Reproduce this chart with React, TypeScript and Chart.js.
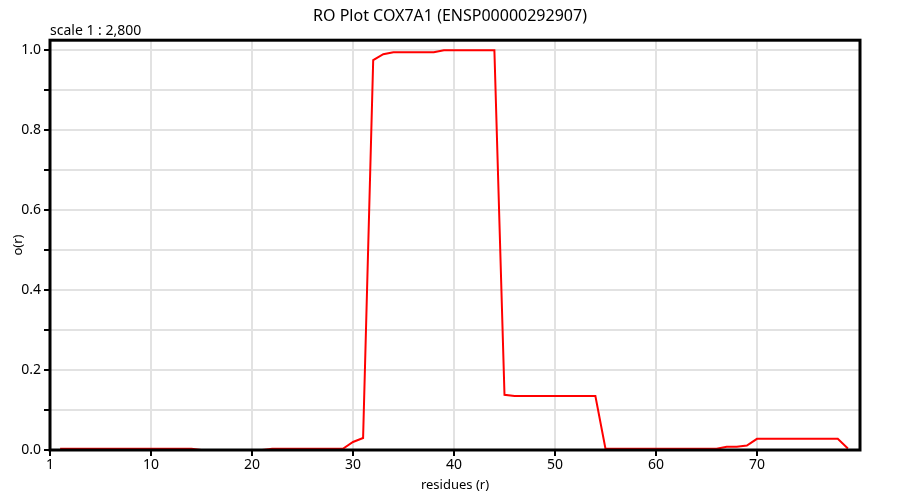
import React, { useEffect, useRef } from "react";
import { Chart, registerables } from "chart.js";

Chart.register(...registerables);

const TITLE = "RO Plot COX7A1 (ENSP00000292907)";
const SCALE_LABEL = "scale 1 : 2,800";
const X_TITLE = "residues (r)";
const Y_TITLE = "o(r)";

const residues: number[] = [
  1, 2, 3, 4, 5, 6, 7, 8, 9, 10, 11, 12, 13, 14, 15, 16, 17, 18, 19, 20,
  21, 22, 23, 24, 25, 26, 27, 28, 29, 30, 31, 32, 33, 34, 35, 36, 37, 38, 39, 40,
  41, 42, 43, 44, 45, 46, 47, 48, 49, 50, 51, 52, 53, 54, 55, 56, 57, 58, 59, 60,
  61, 62, 63, 64, 65, 66, 67, 68, 69, 70, 71, 72, 73, 74, 75, 76, 77, 78, 79,
];

const orValues: number[] = [
  0.003, 0.003, 0.003, 0.003, 0.003, 0.003, 0.003, 0.003, 0.003, 0.003,
  0.003, 0.003, 0.003, 0.003, 0, 0, 0, 0, 0, 0,
  0, 0.003, 0.003, 0.003, 0.003, 0.003, 0.003, 0.003, 0.003, 0.02,
  0.03, 0.975, 0.99, 0.995, 0.995, 0.995, 0.995, 0.995, 1.0, 1.0,
  1.0, 1.0, 1.0, 1.0, 0.138, 0.135, 0.135, 0.135, 0.135, 0.135,
  0.135, 0.135, 0.135, 0.135, 0.003, 0.003, 0.003, 0.003, 0.003, 0.003,
  0.003, 0.003, 0.003, 0.003, 0.003, 0.003, 0.008, 0.008, 0.011, 0.028,
  0.028, 0.028, 0.028, 0.028, 0.028, 0.028, 0.028, 0.028, 0.004,
];

const xTicks: number[] = [0, 10, 20, 30, 40, 50, 60, 70];
const xTickLabels: string[] = ["1", "10", "20", "30", "40", "50", "60", "70"];
const yTicks: number[] = [0, 0.1, 0.2, 0.3, 0.4, 0.5, 0.6, 0.7, 0.8, 0.9, 1.0];
const yTickLabels: string[] = ["0.0", "", "0.2", "", "0.4", "", "0.6", "", "0.8", "", "1.0"];

const FONT = "'Noto Sans', 'Open Sans', sans-serif";

const framePlugin = {
  id: "frame",
  afterDatasetsDraw(chart: any) {
    const { ctx, chartArea } = chart;
    ctx.save();
    ctx.strokeStyle = "#000";
    ctx.lineWidth = 3;
    ctx.strokeRect(
      chartArea.left,
      chartArea.top,
      chartArea.right - chartArea.left,
      chartArea.bottom - chartArea.top
    );
    ctx.restore();
  },
  afterDraw(chart: any) {
    const { ctx, chartArea } = chart;
    ctx.save();
    ctx.fillStyle = "#000";
    ctx.font = `14px ${FONT}`;
    ctx.textAlign = "left";
    ctx.textBaseline = "alphabetic";
    ctx.fillText(SCALE_LABEL, chartArea.left, chartArea.top - 5);
    ctx.restore();
  },
};

export default function App() {
  const canvasRef = useRef<HTMLCanvasElement | null>(null);

  useEffect(() => {
    document.body.style.margin = "0";
    const canvas = canvasRef.current;
    if (!canvas) return;
    const chart = new Chart(canvas, {
      type: "line",
      data: {
        datasets: [
          {
            data: residues.map((r, i) => ({ x: r, y: orValues[i] })),
            borderColor: "#ff0000",
            borderWidth: 2,
            pointRadius: 0,
            tension: 0,
            fill: false,
          },
        ],
      },
      options: {
        animation: false,
        responsive: false,
        maintainAspectRatio: false,
        layout: { padding: 0 },
        plugins: {
          legend: { display: false },
          tooltip: { enabled: false },
          title: {
            display: true,
            text: TITLE,
            color: "#000",
            font: { family: FONT, size: 16, weight: "normal" },
            padding: { top: 7, bottom: 14 },
          },
        },
        scales: {
          x: {
            type: "linear",
            min: 0,
            max: 80.2,
            afterFit: (s: any) => {
              s.height = 50;
            },
            afterBuildTicks: (s: any) => {
              s.ticks = xTicks.map((v) => ({ value: v }));
            },
            ticks: {
              color: "#000",
              font: { family: FONT, size: 14 },
              padding: 1,
              maxRotation: 0,
              autoSkip: false,
              callback: (v: any) => {
                const i = xTicks.indexOf(Number(v));
                return i >= 0 ? xTickLabels[i] : "";
              },
            },
            grid: {
              color: (c: any) => (c.tick && c.tick.value === 0 ? "rgba(0,0,0,0)" : "#e2e2e2"),
              lineWidth: 2,
              tickColor: "#000",
              tickLength: 6,
              tickWidth: 2,
            },
            border: { display: false },
            title: {
              display: true,
              text: X_TITLE,
              color: "#000",
              font: { family: FONT, size: 13 },
              padding: { top: 4, bottom: 7 },
            },
          },
          y: {
            type: "linear",
            min: 0,
            max: 1.025,
            afterFit: (s: any) => {
              s.width = 50;
            },
            afterBuildTicks: (s: any) => {
              s.ticks = yTicks.map((v) => ({ value: v }));
            },
            ticks: {
              color: "#000",
              font: { family: FONT, size: 14 },
              padding: 3,
              autoSkip: false,
              callback: (v: any, i: number) => yTickLabels[i] ?? "",
            },
            grid: {
              color: "#e2e2e2",
              lineWidth: 2,
              tickColor: "#000",
              tickLength: 6,
              tickWidth: 2,
            },
            border: { display: false },
            title: {
              display: true,
              text: Y_TITLE,
              color: "#000",
              font: { family: FONT, size: 13 },
              padding: { top: 10, bottom: 0 },
            },
          },
          yRight: {
            type: "linear",
            position: "right",
            min: 0,
            max: 1.025,
            afterFit: (s: any) => {
              s.width = 40;
            },
            ticks: { display: false },
            grid: { display: false, drawOnChartArea: false },
            border: { display: false },
          },
        },
      },
      plugins: [framePlugin],
    });
    return () => chart.destroy();
  }, []);

  return (
    <div style={{ width: 900, height: 500 }}>
      <canvas ref={canvasRef} width={900} height={500} style={{ display: "block" }} />
    </div>
  );
}
